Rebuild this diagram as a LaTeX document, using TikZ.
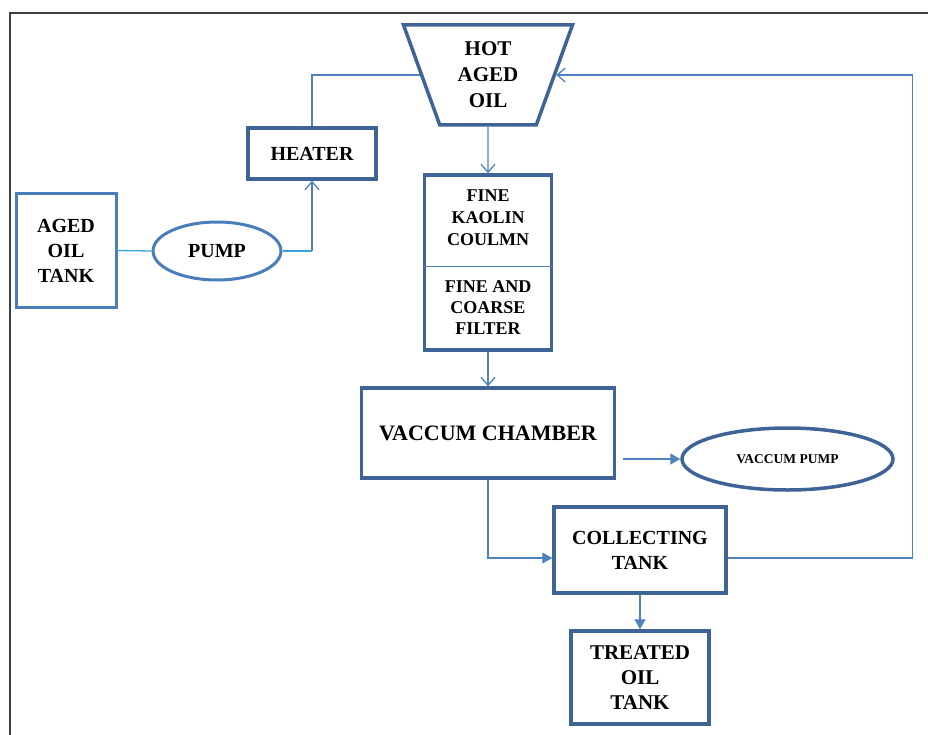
\documentclass[tikz,border=0pt]{standalone}
\usepackage{fontspec}
\setmainfont{Liberation Serif}
\usetikzlibrary{shapes.geometric,arrows.meta}
\definecolor{boxblue}{HTML}{3E6497}
\definecolor{tankblue}{HTML}{4A7EBB}
\definecolor{lineblue}{HTML}{4F81BD}
\definecolor{feedblue}{HTML}{3AA3DE}
\begin{document}
\begin{tikzpicture}[x=1pt,y=-1pt,
  box/.style={draw=boxblue, line width=3.5pt, fill=white, align=center, inner sep=2pt,
    font=\bfseries\fontsize{20}{25}\selectfont},
  tankbox/.style={box, draw=tankblue, line width=3pt},
  conn/.style={draw=lineblue, line width=1.3pt},
  openarrow/.style={-{Straight Barb[length=8pt,width=14pt]}},
  fullarrow/.style={-{Triangle[length=10pt,width=11pt]}}]
\useasboundingbox (0,0) rectangle (928,735);
% frame of the figure
\draw [draw=black!75, line width=1.5pt] (10,750)--(10,13)--(940,13);

% units
\node [box, trapezium, shape border rotate=180, trapezium stretches=true, trapezium angle=71,
  minimum width=169pt, minimum height=100pt, inner sep=0pt, font=\bfseries\fontsize{21}{26}\selectfont]
  (hot) at (488,75) {HOT\\AGED\\OIL};
\node [box, minimum width=128pt, minimum height=51pt] (heater) at (312,153.5) {HEATER};
\node [tankbox, minimum width=100pt, minimum height=113pt] (tank) at (66,250.5) {AGED\\OIL\\TANK};
\node [tankbox, ellipse, minimum width=128pt, minimum height=58pt] (pump) at (217,251) {PUMP};
\node [box, minimum width=127pt, minimum height=175pt] (fine) at (488,262.5) {};
\node [font=\bfseries\fontsize{18}{22}\selectfont, align=center] (kaolin) at (488,218) {FINE\\KAOLIN\\COULMN};
\node [font=\bfseries\fontsize{18}{21}\selectfont, align=center] (filter) at (488,308) {FINE AND\\COARSE\\FILTER};
\node [box, minimum width=253pt, minimum height=90pt, font=\bfseries\fontsize{22}{26}\selectfont] (chamber) at (488,433) {VACCUM CHAMBER};
\node [box, ellipse, minimum width=211pt, minimum height=62pt, font=\bfseries\fontsize{13.5}{16}\selectfont] (vpump) at (787.5,459) {VACCUM PUMP};
\node [box, minimum width=172pt, minimum height=86pt] (collect) at (640,550) {COLLECTING\\TANK};
\node [box, minimum width=138pt, minimum height=93pt, font=\bfseries\fontsize{21}{25}\selectfont] (treated) at (640,677.5) {TREATED\\OIL\\TANK};

% divider inside the column
\draw [conn, line width=1pt] ([yshift=-3.5pt]fine.west)--([yshift=-3.5pt]fine.east);

% flow
\coordinate (bend) at (heater.south |- pump.east);
\draw [conn, draw=feedblue] (tank.east)--(pump.west);
\draw [conn, draw=feedblue] (pump.east)--(bend);
\draw [conn] [openarrow] (bend)--(heater.south);
\draw [conn] (heater.north) |- (hot);
\draw [conn] [openarrow] (hot)--(fine);
\draw [conn] [openarrow] (fine)--(chamber);
\coordinate (vout) at ([xshift=7pt]chamber.east |- vpump.west);
\draw [conn] [fullarrow] (vout)--(vpump.west);
\draw [conn] [fullarrow] (chamber.south) |- ([yshift=-8pt]collect.west);
\draw [conn] [openarrow] ([yshift=-8pt]collect.east) -- ++(185,0) |- (hot);
\draw [conn] [fullarrow] (collect.south)--(treated.north);
\end{tikzpicture}
\end{document}
